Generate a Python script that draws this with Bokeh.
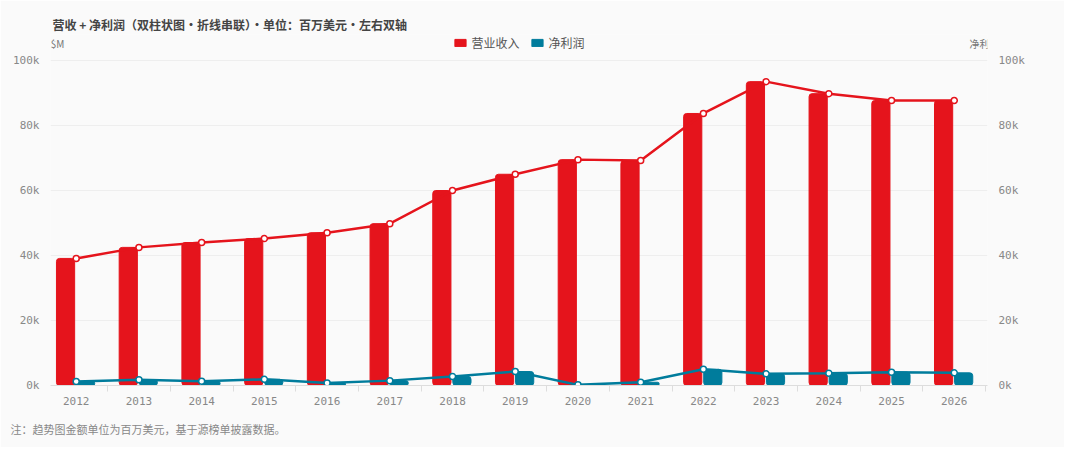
from bokeh.plotting import figure
from bokeh.models import FixedTicker, Label, Legend, LegendItem, LinearAxis, ColumnDataSource, Title
from bokeh.embed import file_html
from bokeh.resources import INLINE

years = [str(y) for y in range(2012, 2027)]
revenue = [39.1, 42.5, 44.0, 45.2, 47.0, 49.8, 60.0, 65.0, 69.5, 69.2, 83.7, 93.5, 89.8, 87.7, 87.7]
profit = [1.2, 1.8, 1.3, 1.9, 0.8, 1.5, 2.8, 4.3, 0.2, 1.0, 5.0, 3.6, 3.8, 4.1, 3.9]
ticks = [0, 20, 40, 60, 80, 100]
tick_labels = {0: "0k", 20: "20k", 40: "40k", 60: "60k", 80: "80k", 100: "100k"}

RED = "#e5141c"
TEAL = "#007c9c"
MONO = "DejaVu Sans Mono"
CJK = "Noto Sans CJK SC"

xs = list(range(len(years)))
src = ColumnDataSource(dict(x=xs, xr=[x - 0.17 for x in xs], xp=[x + 0.15 for x in xs],
                            rev=revenue, pro=profit))

p = figure(width=1064, height=459, output_backend="svg", toolbar_location=None,
           x_range=(-0.41, 14.53), y_range=(0, 108),
           frame_width=937, frame_height=351,
           min_border_left=50, min_border_right=77, min_border_top=34, min_border_bottom=40,
           background_fill_color="#fafafa", border_fill_color="#fafafa")
p.title.text = "营收 + 净利润（双柱状图·折线串联）·单位：百万美元·左右双轴"
p.title.text_font = CJK
p.title.text_font_size = "12px"
p.title.text_color = "#444444"
p.title.offset = 2
p.title.standoff = 4
p.outline_line_color = None

r1 = p.vbar(x="xr", top="rev", width=0.29, source=src, color=RED, border_radius=3)
r2 = p.vbar(x="xp", top="pro", width=0.29, source=src, color=TEAL, border_radius=3)
p.line("x", "rev", source=src, color=RED, line_width=2.5)
p.scatter("x", "rev", source=src, size=6, fill_color="white", line_color=RED, line_width=1.5)
p.line("x", "pro", source=src, color=TEAL, line_width=2.5)
p.scatter("x", "pro", source=src, size=6, fill_color="white", line_color=TEAL, line_width=1.5)

p.xaxis.ticker = FixedTicker(ticks=xs, minor_ticks=[x + 0.5 for x in xs])
p.xaxis.major_label_overrides = {i: y for i, y in enumerate(years)}
p.xaxis.major_tick_line_color = None
p.xaxis.minor_tick_line_color = "#dddddd"
p.xaxis.minor_tick_in = 0
p.xaxis.minor_tick_out = 6
p.xaxis.axis_line_color = "#dddddd"
p.xgrid.grid_line_color = None
p.ygrid.grid_line_color = "#eeeeee"
p.ygrid.ticker = FixedTicker(ticks=ticks)

right = LinearAxis()
p.add_layout(right, "right")
for ax in p.yaxis:
    ax.ticker = FixedTicker(ticks=ticks)
    ax.major_label_overrides = tick_labels
    ax.axis_line_color = None
    ax.major_tick_line_color = None
    ax.minor_tick_line_color = None
for ax in p.xaxis + p.yaxis:
    ax.major_label_text_font = MONO
    ax.major_label_text_font_size = "11px"
    ax.major_label_text_color = "#888888"

legend = Legend(items=[LegendItem(label="营业收入", renderers=[r1]), LegendItem(label="净利润", renderers=[r2])],
                orientation="horizontal", location="top_center", background_fill_alpha=0,
                border_line_color=None, label_text_font=CJK, label_text_font_size="12px",
                label_text_color="#555555", glyph_width=14, glyph_height=9, spacing=10,
                margin=0, padding=0, label_height=14, glyph_height_policy=None) if False else \
         Legend(items=[LegendItem(label="营业收入", renderers=[r1]), LegendItem(label="净利润", renderers=[r2])],
                orientation="horizontal", location="top_center", background_fill_alpha=0,
                border_line_color=None, label_text_font=CJK, label_text_font_size="12px",
                label_text_color="#555555", glyph_width=14, glyph_height=9, spacing=10,
                margin=0, padding=2)
p.add_layout(legend, "center")

p.add_layout(Label(x=-0.41, y=100, x_offset=-22, y_offset=10, text="营收 $M", text_font=CJK,
                   text_font_size="10px", text_color="#777777", text_align="left"))
p.add_layout(Label(x=14.53, y=100, x_offset=18, y_offset=10, text="净利 $M", text_font=CJK,
                   text_font_size="10px", text_color="#777777", text_align="right"))

foot = Title(text="注：趋势图金额单位为百万美元，基于源榜单披露数据。", align="left",
             text_font=CJK, text_font_size="11px", text_color="#888888", text_font_style="normal",
             offset=-40, standoff=22)
p.add_layout(foot, "below")

open("out.html", "w").write(file_html(p, INLINE))
